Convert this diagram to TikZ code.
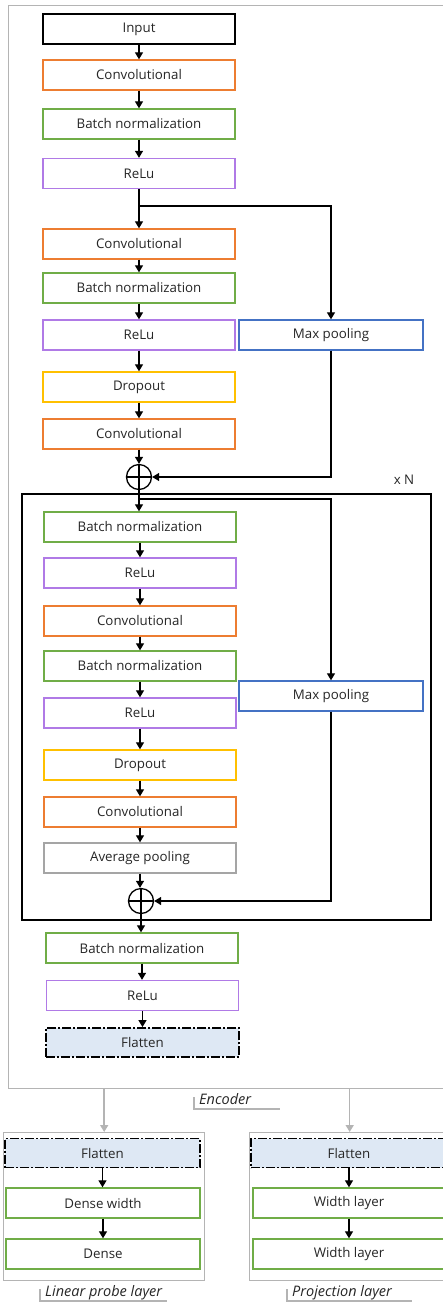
\documentclass[tikz,border=0pt]{standalone}
\usepackage{fontspec}
\setmainfont{Open Sans}
\usetikzlibrary{arrows.meta}
\definecolor{cOrange}{HTML}{ED7D31}
\definecolor{cGreen}{HTML}{70AD47}
\definecolor{cPurple}{HTML}{B07AE6}
\definecolor{cYellow}{HTML}{FFC000}
\definecolor{cBlue}{HTML}{4472C4}
\definecolor{cGray}{HTML}{A5A5A5}
\definecolor{cFrame}{HTML}{B4B4B4}
\definecolor{cFlat}{HTML}{DEE8F4}
\definecolor{cText}{HTML}{262626}
\tikzset{
  layer/.style={draw=#1, line width=1.4pt, minimum width=192pt, minimum height=30pt, inner sep=0pt,
    font=\fontsize{13.3}{15}\selectfont, text=cText, fill=white},
  flat/.style={draw=black, line width=1.8pt, dash pattern=on 9pt off 2pt on 2pt off 2pt,
    fill=cFlat, minimum width=#1, minimum height=29pt, inner sep=0pt,
    font=\fontsize{13.3}{15}\selectfont, text=cText},
  frame/.style={draw=cFrame, line width=1.4pt, inner sep=0pt, anchor=north west},
  arr/.style={draw=black, line width=1.3pt, -{Triangle[length=7pt,width=8pt]}},
  garr/.style={draw=cFrame, line width=1.5pt, -{Triangle[length=7pt,width=8pt]}},
  ln/.style={draw=black, line width=1.3pt},
  plus/.style={circle, draw=black, line width=1.3pt, minimum size=25pt, inner sep=0pt},
  captext/.style={font=\fontsize{14.5}{16}\selectfont\itshape, text=cText, anchor=west, inner sep=0pt},
  brk/.style={draw=cFrame, line width=1.2pt}
}
\newcommand{\varr}[2]{\draw[arr] (#1.south) -- (#1.south |- #2.north);}
\begin{document}
\begin{tikzpicture}[x=1pt,y=-1pt]
\useasboundingbox (0,0) rectangle (443,1307);
% frames
\node[frame, minimum width=462pt, minimum height=1083pt] (enc) at (8,5) {};
\node[frame, minimum width=201pt, minimum height=148pt] (lp) at (3,1132) {};
\node[frame, minimum width=200pt, minimum height=148pt] (pj) at (249,1132) {};
% loop box
\node[draw=black, line width=1.6pt, minimum width=409pt, minimum height=426pt, inner sep=0pt, anchor=north west] (loop) at (21,493) {};
\node[font=\fontsize{13.3}{15}\selectfont, text=cText] (xn) at (404,480) {x N};
% top column
\node[layer=black, line width=1.9pt] (in) at (139,29) {Input};
\node[layer=cOrange] (c1) at (139,75) {Convolutional};
\node[layer=cGreen] (b1) at (139,124) {Batch normalization};
\node[layer=cPurple] (r1) at (139,173.5) {ReLu};
\node[layer=cOrange] (c2) at (139,244) {Convolutional};
\node[layer=cGreen] (b2) at (139,288) {Batch normalization};
\node[layer=cPurple] (r2) at (139,335) {ReLu};
\node[layer=cBlue, minimum width=184pt] (m1) at (331,335) {Max pooling};
\node[layer=cYellow] (d1) at (139,387) {Dropout};
\node[layer=cOrange] (c3) at (139,434) {Convolutional};
\node[plus] (p1) at (139,477) {};
\draw[ln] (p1.north) -- (p1.south) (p1.west) -- (p1.east);
% inner column
\node[layer=cGreen] (b3) at (140,527) {Batch normalization};
\node[layer=cPurple] (r3) at (140,573) {ReLu};
\node[layer=cOrange] (c4) at (140,621) {Convolutional};
\node[layer=cGreen] (b4) at (140,666) {Batch normalization};
\node[layer=cPurple] (r4) at (140,713) {ReLu};
\node[layer=cBlue, minimum width=184pt] (m2) at (331,696) {Max pooling};
\node[layer=cYellow] (d2) at (140,765) {Dropout};
\node[layer=cOrange] (c5) at (140,812) {Convolutional};
\node[layer=cGray] (ap) at (140,858) {Average pooling};
\node[plus] (p2) at (141,901) {};
\draw[ln] (p2.north) -- (p2.south) (p2.west) -- (p2.east);
% final column
\node[layer=cGreen] (b5) at (142,948) {Batch normalization};
\node[layer=cPurple] (r5) at (142.5,995.5) {ReLu};
\node[flat=193pt] (f1) at (142.5,1042.5) {Flatten};
% bottom boxes
\node[flat=195pt] (f2) at (102.5,1153) {Flatten};
\node[layer=cGreen, minimum width=194pt] (dw) at (103,1203) {Dense width};
\node[layer=cGreen, minimum width=194pt] (dn) at (103,1254) {Dense};
\node[flat=196pt] (f3) at (349,1153) {Flatten};
\node[layer=cGreen] (w1) at (349,1203) {Width layer};
\node[layer=cGreen] (w2) at (349,1254) {Width layer};
% arrows top
\varr{in}{c1}
\varr{c1}{b1}
\varr{b1}{r1}
\varr{r1}{c2}
\coordinate (s1) at (139,206);
\draw[arr] (s1) -| (m1.north);
\varr{c2}{b2}
\varr{b2}{r2}
\varr{r2}{d1}
\varr{d1}{c3}
\varr{c3}{p1}
\draw[arr] (m1.south) |- (p1.east);
% inner
\draw[arr] (p1.south) -- (p1.south |- b3.north);
\coordinate (s2) at (139,499);
\draw[arr] (s2) -| (m2.north);
\varr{b3}{r3}
\varr{r3}{c4}
\varr{c4}{b4}
\varr{b4}{r4}
\varr{r4}{d2}
\varr{d2}{c5}
\varr{c5}{ap}
\draw[arr] (ap.south) -- (ap.south |- p2.north);
\draw[arr] (m2.south) |- (p2.east);
\draw[arr] (p2.south) -- (p2.south |- b5.north);
\varr{b5}{r5}
\varr{r5}{f1}
% bottom arrows
\varr{f2}{dw}
\varr{dw}{dn}
\varr{f3}{w1}
\varr{w1}{w2}
\draw[garr] (enc.south -| lp.north) -- (lp.north);
\draw[garr] (enc.south -| pj.north) -- (pj.north);
% captions
\node[captext] (ce) at (199,1099) {Encoder};
\draw[brk] (194,1097) -- (194,1109) -- (280,1109);
\node[captext] (cl) at (45,1293) {Linear probe layer};
\draw[brk] (40,1289) -- (40,1301) -- (167,1301);
\node[captext] (cp) at (292,1293) {Projection layer};
\draw[brk] (287,1289) -- (287,1301) -- (412,1301);
\end{tikzpicture}
\end{document}
